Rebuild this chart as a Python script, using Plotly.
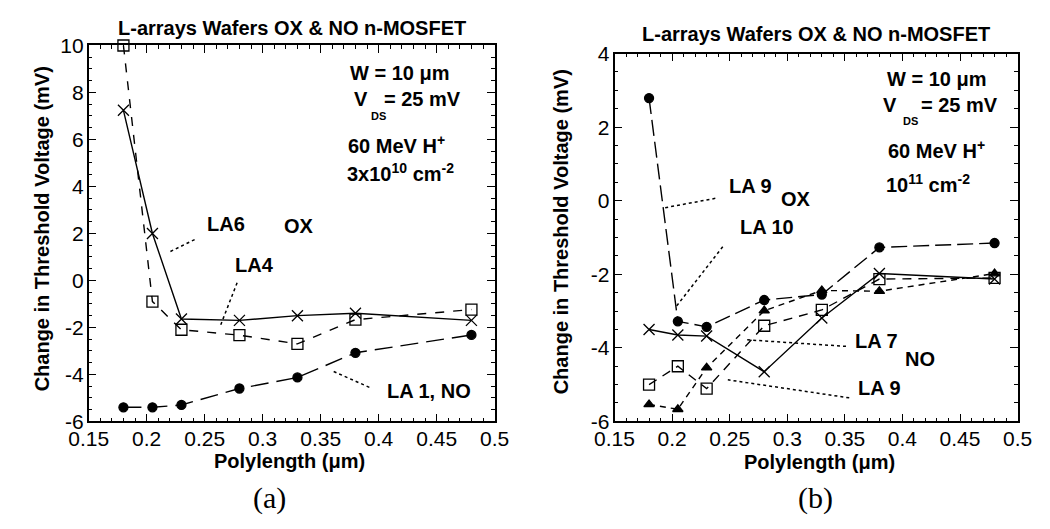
import plotly.graph_objects as go

W, H = 1050, 529

# ---------------- data ----------------
polylength = [0.18, 0.205, 0.23, 0.28, 0.33, 0.38, 0.48]

# panel (a): 3x10^10 cm^-2
a_la6_ox = [7.24, 2.0, -1.64, -1.7, -1.5, -1.4, -1.7]
a_la4_ox = [10.0, -0.9, -2.1, -2.33, -2.7, -1.67, -1.24]
a_la1_no = [-5.4, -5.4, -5.3, -4.6, -4.13, -3.08, -2.32]

# panel (b): 10^11 cm^-2
b_circ = [2.79, -3.28, -3.43, -2.70, -2.55, -1.27, -1.15]
b_x = [-3.50, -3.65, -3.68, -4.65, -3.19, -1.98, -2.13]
b_sq = [-5.00, -4.50, -5.11, -3.40, -2.97, -2.13, -2.10]
b_tri = [-5.54, -5.67, -4.54, -2.99, -2.44, -2.46, -1.98]

x_tickvals = [0.15, 0.2, 0.25, 0.3, 0.35, 0.4, 0.45, 0.5]
x_ticktext = ["0.15", "0.2", "0.25", "0.3", "0.35", "0.4", "0.45", "0.5"]
a_y_tickvals = [-6, -4, -2, 0, 2, 4, 6, 8, 10]
a_y_ticktext = ["-6", "-4", "-2", "0", "2", "4", "6", "8", "10"]
b_y_tickvals = [-6, -4, -2, 0, 2, 4]
b_y_ticktext = ["-6", "-4", "-2", "0", "2", "4"]

title_text = "L-arrays Wafers OX & NO n-MOSFET"
ytitle_text = "Change in Threshold Voltage (mV)"
xtitle_text = "Polylength (\u03bcm)"

# label texts (data coordinates)
a_labels = [
    ("W = 10 \u03bcm", 0.4185, 8.83, 20),
    ("V", 0.385, 7.72, 20),
    ("= 25 mV", 0.438, 7.72, 20),
    ("DS", 0.400, 6.98, 11),
    ("60 MeV H<sup>+</sup>", 0.4157, 5.79, 20),
    ("3x10<sup>10</sup> cm<sup>-2</sup>", 0.4185, 4.61, 20),
    ("LA6", 0.2687, 2.40, 20),
    ("OX", 0.3316, 2.33, 20),
    ("LA4", 0.293, 0.67, 20),
    ("LA 1, NO", 0.4434, -4.72, 20),
]
a_leaders = [
    (0.2205, 1.23, 0.243, 1.78),
    (0.278, -0.10, 0.263, -2.0),
    (0.392, -4.55, 0.360, -3.85),
]
b_labels = [
    ("W = 10 \u03bcm", 0.430, 3.32, 20),
    ("V", 0.3895, 2.60, 20),
    ("= 25 mV", 0.4493, 2.60, 20),
    ("DS", 0.407, 2.17, 11),
    ("60 MeV H<sup>+</sup>", 0.430, 1.38, 20),
    ("10<sup>11</sup> cm<sup>-2</sup>", 0.4223, 0.47, 20),
    ("LA 9", 0.268, 0.39, 20),
    ("OX", 0.3074, 0.04, 20),
    ("LA 10", 0.282, -0.71, 20),
    ("LA 7", 0.3777, -3.81, 20),
    ("NO", 0.4156, -4.30, 20),
    ("LA 9", 0.3805, -5.10, 20),
]
b_leaders = [
    (0.194, -0.19, 0.2385, 0.07),
    (0.244, -1.25, 0.203, -2.90),
    (0.3510, -3.96, 0.2640, -3.78),
    (0.3538, -5.36, 0.2484, -4.87),
]

# ---------------- figure ----------------
FONT = "Liberation Sans"
fig = go.Figure()

def add_series(y, xa, ya, symbol, dash, size=10, lw=1.4):
    fig.add_trace(go.Scatter(
        x=polylength, y=y, xaxis=xa, yaxis=ya, mode="lines+markers",
        line=dict(color="black", width=lw, dash=dash),
        marker=dict(symbol=symbol, size=size, color="black",
                    line=dict(color="black", width=1.3)),
        cliponaxis=False, showlegend=False,
    ))

# panel (a) -- x/y carry the frame and ticks, x3/y3 (same range) carry the labels
add_series(a_la6_ox, "x", "y", "x-thin-open", "solid", 11)
add_series(a_la4_ox, "x", "y", "square-open", "9px,9px", 11)
add_series(a_la1_no, "x3", "y3", "circle", "18px,8px", 9)

# panel (b)
add_series(b_circ, "x4", "y4", "circle", "16px,6px", 9)
add_series(b_x, "x2", "y2", "x-thin-open", "solid", 11)
add_series(b_sq, "x2", "y2", "square-open", "9px,7px", 11)
add_series(b_tri, "x2", "y2", "triangle-up", "6px,5px", 9)

def px_x(p):
    return p / W

def px_y(p):
    return 1 - p / H

# base axes: frame, major and minor ticks (no labels)
base = dict(
    showline=True, linecolor="black", linewidth=1.5, mirror="allticks",
    ticks="inside", ticklen=8, tickwidth=1.3, tickcolor="black",
    showgrid=False, zeroline=False, tickmode="linear", showticklabels=False,
)
x_minor = dict(tickmode="linear", dtick=0.01, tick0=0.15, ticks="inside", ticklen=4,
               tickcolor="black", tickwidth=1.2, showgrid=False)
y_minor = dict(tickmode="linear", dtick=0.5, tick0=0, ticks="inside", ticklen=4,
               tickcolor="black", tickwidth=1.2, showgrid=False)
# label-only overlay axes
lab = dict(showline=False, ticks="", showgrid=False, zeroline=False, tickmode="array",
           tickfont=dict(family=FONT, size=21, color="black"))

xa_dom = [px_x(71), px_x(491)]
xb_dom = [px_x(615), px_x(1032)]
ya_dom = [px_y(428), px_y(35)]
yb_dom = [px_y(428), px_y(43.5)]

fig.update_layout(
    width=W, height=H,
    margin=dict(l=0, r=0, t=0, b=0),
    paper_bgcolor="white", plot_bgcolor="white",
    xaxis=dict(domain=xa_dom, range=[0.15, 0.5], anchor="y", dtick=0.05, tick0=0.15,
               minor=x_minor, **base),
    yaxis=dict(domain=ya_dom, range=[-6, 10], anchor="x", dtick=2, tick0=0,
               minor=y_minor, **base),
    xaxis2=dict(domain=xb_dom, range=[0.15, 0.5], anchor="y2", dtick=0.05, tick0=0.15,
                minor=x_minor, **base),
    yaxis2=dict(domain=yb_dom, range=[-6, 4], anchor="x2", dtick=2, tick0=0,
                minor=y_minor, **base),
    xaxis3=dict(domain=xa_dom, range=[0.15, 0.5], anchor="y3", overlaying="x", side="bottom",
                tickvals=x_tickvals, ticktext=x_ticktext, ticklabelstandoff=3, **lab),
    yaxis3=dict(domain=ya_dom, range=[-6, 10], anchor="x3", overlaying="y", side="left",
                tickvals=a_y_tickvals, ticktext=a_y_ticktext, ticklabelstandoff=4, **lab),
    xaxis4=dict(domain=xb_dom, range=[0.15, 0.5], anchor="y4", overlaying="x2", side="bottom",
                tickvals=x_tickvals, ticktext=x_ticktext, ticklabelstandoff=3, **lab),
    yaxis4=dict(domain=yb_dom, range=[-6, 4], anchor="x4", overlaying="y2", side="left",
                tickvals=b_y_tickvals, ticktext=b_y_ticktext, ticklabelstandoff=4, **lab),
)

annotations = []
def txt(text, x, y, size, xref, yref, bold=True, family=FONT, angle=0):
    annotations.append(dict(
        text=("<b>%s</b>" % text) if bold else text, x=x, y=y, xref=xref, yref=yref,
        showarrow=False, xanchor="center", yanchor="middle", textangle=angle,
        font=dict(family=family, size=size, color="black"),
    ))

for t, x, y, s in a_labels:
    txt(t, x, y, s, "x", "y")
for t, x, y, s in b_labels:
    txt(t, x, y, s, "x2", "y2")

# titles and axis titles
txt(title_text, px_x(281), px_y(17), 20, "paper", "paper")
txt(title_text, px_x(823), px_y(23), 20, "paper", "paper")
txt(ytitle_text, px_x(23), px_y(227), 20, "paper", "paper", angle=-90)
txt(ytitle_text, px_x(560), px_y(230), 20, "paper", "paper", angle=-90)
txt(xtitle_text, px_x(279), px_y(469), 20, "paper", "paper")
txt(xtitle_text, px_x(827), px_y(470), 20, "paper", "paper")
txt("(a)", px_x(258), px_y(508), 30, "paper", "paper", bold=False, family="Liberation Serif")
txt("(b)", px_x(823), px_y(508), 30, "paper", "paper", bold=False, family="Liberation Serif")

shapes = []
for x0, y0, x1, y1 in a_leaders:
    shapes.append(dict(type="line", xref="x", yref="y", x0=x0, y0=y0, x1=x1, y1=y1,
                       line=dict(color="black", width=1.5, dash="dot")))
for x0, y0, x1, y1 in b_leaders:
    shapes.append(dict(type="line", xref="x2", yref="y2", x0=x0, y0=y0, x1=x1, y1=y1,
                       line=dict(color="black", width=1.5, dash="dot")))

fig.update_layout(annotations=annotations, shapes=shapes)
fig.write_html("out.html")
